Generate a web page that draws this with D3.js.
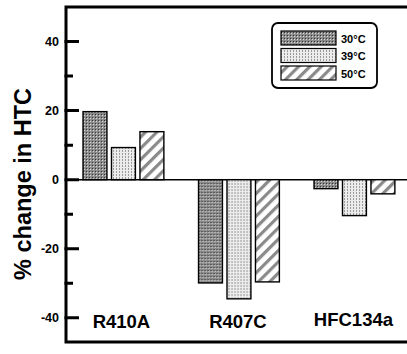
<!DOCTYPE html>
<html>
<head>
<meta charset="utf-8">
<script src="https://cdn.jsdelivr.net/npm/d3@7"></script>
<style>
  body { margin: 0; background: #fff; }
  svg text { font-family: "Liberation Sans", Arial, sans-serif; font-weight: bold; fill: #000; }
</style>
</head>
<body>
<div id="chart"></div>
<script>
var w = 407, h = 354;

// data
var fluids = ['R410A', 'R407C', 'HFC134a'];
var temps = ['30°C', '39°C', '50°C'];
var t30 = [19.7, -29.9, -2.6];
var t39 = [9.3, -34.5, -10.4];
var t50 = [13.9, -29.6, -4.1];
var yTicks = [-40, -20, 0, 20, 40];
var yMinor = [-30, -10, 10, 30];

var series = [t30, t39, t50];

var svg = d3.select('#chart').append('svg')
  .attr('width', w).attr('height', h);

var defs = svg.append('defs');

// dark dotted fill for 30°C
var p1 = defs.append('pattern').attr('id', 'pat0')
  .attr('patternUnits', 'userSpaceOnUse').attr('width', 3).attr('height', 3);
p1.append('rect').attr('width', 3).attr('height', 3).attr('fill', '#8c8c8c');
p1.append('rect').attr('width', 1).attr('height', 1).attr('fill', '#333');
p1.append('rect').attr('x', 1).attr('y', 1).attr('width', 1).attr('height', 1).attr('fill', '#d8d8d8');

// light dotted fill for 39°C
var p2 = defs.append('pattern').attr('id', 'pat1')
  .attr('patternUnits', 'userSpaceOnUse').attr('width', 3).attr('height', 3);
p2.append('rect').attr('width', 3).attr('height', 3).attr('fill', '#ececec');
p2.append('rect').attr('width', 1).attr('height', 2).attr('fill', '#9a9a9a');

// diagonal hatch for 50°C
var p3 = defs.append('pattern').attr('id', 'pat2')
  .attr('patternUnits', 'userSpaceOnUse').attr('width', 8).attr('height', 8)
  .attr('patternTransform', 'rotate(45)');
p3.append('rect').attr('width', 8).attr('height', 8).attr('fill', '#fff');
p3.append('rect').attr('width', 3.2).attr('height', 8).attr('fill', '#8a8a8a');

var y = d3.scaleLinear().domain([-47, 50]).range([342, 7]);

var x0 = d3.scaleBand().domain(fluids)
  .range([65.7, 412.2]).paddingInner(0.3).paddingOuter(0.15);
var x1 = d3.scaleBand().domain(temps)
  .range([0, x0.bandwidth()]).paddingInner(0.16);

// zero line
svg.append('line')
  .attr('x1', 66).attr('x2', w)
  .attr('y1', y(0)).attr('y2', y(0))
  .attr('stroke', '#000').attr('stroke-width', 1.6);

// bars
var groups = svg.selectAll('g.fluid')
  .data(fluids).enter()
  .append('g').attr('class', 'fluid')
  .attr('transform', function(d) { return 'translate(' + x0(d) + ',0)'; });

groups.each(function(f, i) {
  d3.select(this).selectAll('rect')
    .data(temps).enter()
    .append('rect')
    .attr('x', function(t) { return x1(t); })
    .attr('width', x1.bandwidth())
    .attr('y', function(t, j) { return y(Math.max(0, series[j][i])); })
    .attr('height', function(t, j) { return Math.abs(y(series[j][i]) - y(0)); })
    .attr('fill', function(t, j) { return 'url(#pat' + j + ')'; })
    .attr('stroke', '#000').attr('stroke-width', 1.4);
});

// frame (no right edge, it runs off the picture)
svg.append('path')
  .attr('d', 'M' + (w + 5) + ',' + y(50) + 'H66V' + y(-47) + 'H' + (w + 5))
  .attr('fill', 'none').attr('stroke', '#000').attr('stroke-width', 3);

// y ticks, pointing inward
var tickPath = yTicks.map(function(d) { return 'M64.5,' + y(d) + 'H79'; })
  .concat(yMinor.map(function(d) { return 'M64.5,' + y(d) + 'H73'; })).join('');
svg.append('path')
  .attr('d', tickPath)
  .attr('fill', 'none').attr('stroke', '#000').attr('stroke-width', 3);

svg.selectAll('text.ytl')
  .data(yTicks).enter()
  .append('text').attr('class', 'ytl')
  .attr('x', 59).attr('y', function(d) { return y(d) + 4.5; })
  .attr('text-anchor', 'end')
  .attr('font-size', 12.5)
  .text(function(d) { return String(d); });

// category labels
svg.selectAll('text.cat')
  .data(fluids).enter()
  .append('text').attr('class', 'cat')
  .attr('x', function(d, i) { return x0(d) + x0.bandwidth() / 2 - (i === 0 ? 2 : 1); })
  .attr('y', function(d, i) { return i === 2 ? 326 : 328; })
  .attr('text-anchor', 'middle')
  .attr('font-size', 18.5)
  .text(function(d) { return d; });

// y title
svg.append('text')
  .attr('transform', 'translate(31,' + 184 + ') rotate(-90)')
  .attr('text-anchor', 'middle')
  .attr('font-size', 23.5)
  .text('% change in HTC');

// legend
var lg = svg.append('g').attr('transform', 'translate(272,23)');
lg.append('rect').attr('width', 105).attr('height', 65)
  .attr('rx', 6).attr('ry', 6)
  .attr('fill', '#fff').attr('stroke', '#000').attr('stroke-width', 1.8);
lg.selectAll('rect.sw')
  .data(temps).enter()
  .append('rect').attr('class', 'sw')
  .attr('x', 9).attr('y', function(d, i) { return 8 + i * 17.5; })
  .attr('width', 55).attr('height', 14)
  .attr('fill', function(d, i) { return 'url(#pat' + i + ')'; })
  .attr('stroke', '#000').attr('stroke-width', 1.2);
lg.selectAll('text.lt')
  .data(temps).enter()
  .append('text').attr('class', 'lt')
  .attr('x', 69).attr('y', function(d, i) { return 19.5 + i * 17.5; })
  .attr('font-size', 11)
  .text(function(d) { return d; });
</script>
</body>
</html>
